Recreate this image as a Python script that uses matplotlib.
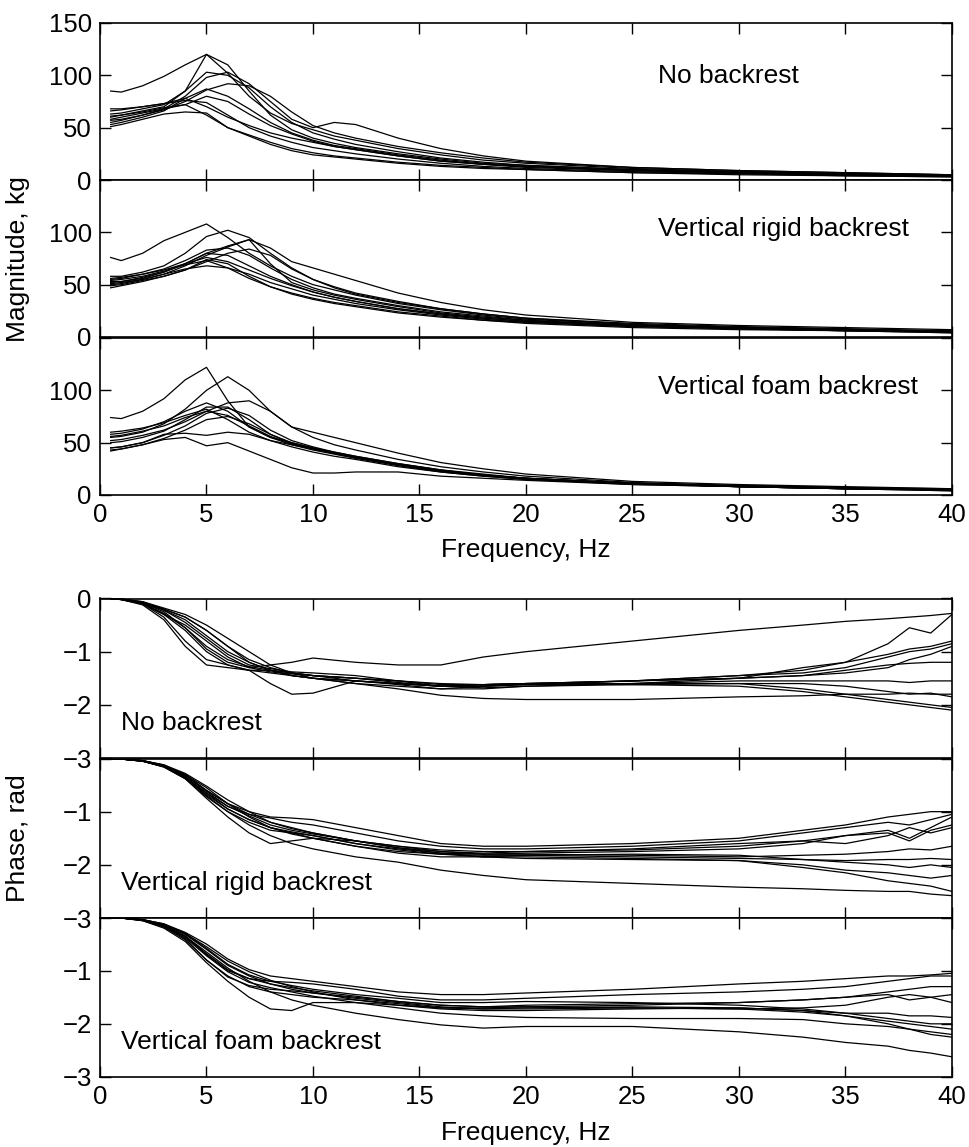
from pathlib import Path

import matplotlib

matplotlib.use("Agg")
import matplotlib.pyplot as plt


OUTPUT_PATH = Path("out.png")

plt.rcParams["font.family"] = ["Liberation Sans", "DejaVu Sans"]

# Frequency grids, Hz
MAG_FREQ = [0.5, 1, 2, 3, 4, 5, 6, 7, 8, 9, 10, 11, 12, 14, 16, 18, 20, 25, 30, 35, 40]
PHASE_FREQ = [0.5, 1, 2, 3, 4, 5, 6, 7, 8, 9, 10, 12, 14, 16, 18, 20, 25, 30, 33, 35, 37, 38, 39, 40]

CONDITIONS = ["No backrest", "Vertical rigid backrest", "Vertical foam backrest"]

# Apparent mass magnitude, kg (one row per subject)
MAG_NO_BACKREST = [
    [85, 84, 90, 99, 110, 120, 102, 80, 64, 54, 48, 42, 38, 30, 24, 19, 16, 11, 8, 6, 5],
    [60, 62, 66, 70, 85, 120, 110, 85, 62, 48, 40, 35, 31, 25, 20, 16, 14, 10, 7, 6, 4],
    [63, 64, 68, 72, 85, 103, 100, 88, 70, 55, 45, 39, 34, 27, 21, 17, 14, 10, 8, 6, 4],
    [55, 57, 62, 68, 80, 98, 103, 92, 75, 58, 50, 55, 53, 40, 30, 23, 18, 12, 9, 7, 5],
    [57, 58, 62, 67, 75, 86, 92, 90, 80, 65, 52, 45, 40, 32, 26, 21, 17, 12, 9, 7, 5],
    [53, 55, 60, 66, 78, 87, 80, 68, 55, 45, 38, 33, 30, 24, 19, 15, 13, 9, 7, 5, 4],
    [58, 60, 64, 68, 72, 80, 75, 63, 52, 44, 37, 32, 29, 23, 18, 15, 12, 9, 7, 5, 4],
    [66, 67, 70, 73, 78, 70, 60, 52, 45, 40, 36, 32, 29, 23, 18, 15, 13, 9, 7, 5, 4],
    [51, 53, 58, 63, 65, 64, 50, 42, 34, 28, 24, 22, 20, 16, 13, 11, 10, 7, 5, 4, 3],
    [61, 62, 65, 69, 72, 62, 50, 43, 36, 30, 26, 23, 21, 17, 14, 12, 10, 7, 6, 4, 3],
    [68, 68, 70, 73, 76, 74, 62, 50, 42, 36, 31, 28, 25, 20, 16, 13, 11, 8, 6, 5, 4],
]
MAG_RIGID = [
    [76, 73, 80, 92, 100, 108, 95, 80, 68, 58, 50, 45, 40, 32, 26, 21, 17, 12, 9, 7, 5],
    [58, 58, 62, 68, 80, 96, 102, 95, 80, 66, 55, 47, 41, 33, 27, 22, 18, 13, 10, 8, 6],
    [53, 53, 56, 62, 70, 80, 87, 93, 70, 52, 45, 40, 36, 29, 23, 19, 16, 11, 9, 7, 5],
    [51, 52, 55, 60, 68, 78, 86, 93, 85, 72, 66, 60, 54, 42, 33, 26, 21, 14, 11, 9, 7],
    [55, 56, 60, 65, 73, 83, 85, 78, 66, 55, 47, 41, 37, 30, 24, 20, 16, 11, 9, 7, 5],
    [52, 53, 57, 62, 70, 80, 78, 68, 58, 50, 43, 38, 34, 27, 22, 18, 15, 11, 8, 6, 5],
    [50, 51, 55, 60, 65, 68, 66, 60, 52, 46, 40, 36, 32, 26, 21, 17, 14, 10, 8, 6, 5],
    [54, 55, 58, 63, 69, 73, 66, 56, 48, 42, 37, 33, 30, 24, 20, 16, 14, 10, 8, 6, 4],
    [49, 50, 54, 58, 64, 72, 80, 84, 78, 65, 55, 48, 42, 34, 27, 22, 18, 12, 9, 7, 5],
    [47, 49, 53, 58, 64, 74, 70, 58, 48, 41, 36, 32, 29, 23, 19, 16, 13, 9, 7, 6, 4],
    [56, 57, 60, 64, 70, 76, 72, 64, 56, 49, 43, 38, 34, 27, 22, 18, 15, 11, 8, 7, 5],
]
MAG_FOAM = [
    [74, 73, 80, 92, 110, 122, 90, 65, 55, 50, 45, 40, 36, 29, 23, 19, 16, 11, 8, 6, 5],
    [55, 56, 60, 68, 82, 100, 113, 100, 80, 65, 60, 55, 50, 40, 31, 25, 20, 13, 10, 8, 6],
    [52, 53, 57, 62, 70, 80, 88, 90, 80, 65, 55, 48, 43, 34, 27, 22, 18, 12, 9, 7, 6],
    [45, 46, 50, 58, 59, 57, 60, 58, 52, 48, 44, 40, 36, 29, 23, 19, 16, 11, 8, 6, 5],
    [43, 44, 48, 53, 55, 47, 50, 42, 34, 26, 21, 21, 22, 22, 18, 16, 14, 10, 8, 6, 5],
    [58, 59, 63, 70, 80, 88, 80, 65, 55, 48, 43, 39, 35, 28, 22, 18, 15, 11, 8, 6, 5],
    [50, 51, 55, 61, 72, 84, 84, 72, 58, 49, 44, 40, 36, 29, 23, 19, 16, 11, 9, 7, 5],
    [45, 46, 50, 57, 66, 78, 83, 76, 62, 52, 46, 41, 37, 30, 24, 20, 16, 11, 9, 7, 5],
    [56, 57, 61, 66, 74, 80, 76, 66, 56, 49, 44, 40, 36, 29, 23, 19, 15, 11, 8, 6, 4],
    [42, 44, 48, 54, 62, 72, 75, 68, 58, 50, 45, 41, 37, 30, 24, 19, 16, 11, 8, 7, 5],
    [60, 61, 64, 69, 76, 82, 72, 60, 52, 46, 41, 37, 34, 27, 22, 18, 15, 10, 8, 6, 4],
]

# Apparent mass phase, rad
PHASE_NO_BACKREST = [
    [0, -0.01, -0.08, -0.25, -0.55, -0.95, -1.2, -1.3, -1.25, -1.2, -1.12, -1.2, -1.25, -1.25, -1.1, -1.0, -0.8, -0.6, -0.5, -0.43, -0.38, -0.35, -0.32, -0.28],
    [0, -0.02, -0.1, -0.3, -0.6, -1.0, -1.25, -1.35, -1.6, -1.8, -1.78, -1.55, -1.6, -1.65, -1.62, -1.6, -1.55, -1.5, -1.3, -1.2, -0.85, -0.55, -0.65, -0.3],
    [0, -0.02, -0.1, -0.35, -0.8, -1.15, -1.25, -1.35, -1.4, -1.45, -1.5, -1.55, -1.6, -1.65, -1.65, -1.62, -1.55, -1.45, -1.35, -1.2, -1.05, -0.95, -0.9, -0.8],
    [0, -0.02, -0.12, -0.4, -0.9, -1.25, -1.3, -1.35, -1.35, -1.4, -1.45, -1.5, -1.55, -1.6, -1.62, -1.6, -1.55, -1.45, -1.4, -1.3, -1.1, -1.0, -0.95, -0.85],
    [0, -0.01, -0.08, -0.2, -0.35, -0.6, -0.9, -1.15, -1.3, -1.4, -1.45, -1.5, -1.58, -1.65, -1.65, -1.6, -1.55, -1.5, -1.45, -1.35, -1.25, -1.22, -1.2, -1.2],
    [0, -0.01, -0.06, -0.18, -0.3, -0.5, -0.75, -1.0, -1.25, -1.4, -1.5, -1.6, -1.65, -1.7, -1.65, -1.62, -1.6, -1.55, -1.55, -1.55, -1.55, -1.58, -1.55, -1.55],
    [0, -0.01, -0.08, -0.22, -0.4, -0.7, -1.0, -1.2, -1.35, -1.45, -1.5, -1.55, -1.62, -1.7, -1.7, -1.65, -1.62, -1.6, -1.6, -1.65, -1.75, -1.8, -1.78, -1.85],
    [0, -0.01, -0.06, -0.2, -0.35, -0.6, -0.9, -1.2, -1.35, -1.45, -1.5, -1.6, -1.7, -1.82, -1.88, -1.9, -1.9, -1.85, -1.83, -1.8, -1.8, -1.78, -1.8, -1.8],
    [0, -0.02, -0.1, -0.3, -0.5, -0.8, -1.1, -1.3, -1.38, -1.42, -1.45, -1.55, -1.6, -1.65, -1.62, -1.6, -1.62, -1.65, -1.75, -1.85, -1.95, -2.0, -2.05, -2.1],
    [0, -0.02, -0.09, -0.28, -0.55, -0.9, -1.15, -1.28, -1.35, -1.4, -1.45, -1.5, -1.55, -1.62, -1.62, -1.6, -1.6, -1.6, -1.7, -1.8, -1.9, -1.95, -2.0, -2.05],
    [0, -0.01, -0.07, -0.22, -0.45, -0.75, -1.05, -1.25, -1.32, -1.38, -1.4, -1.45, -1.55, -1.65, -1.68, -1.65, -1.6, -1.5, -1.45, -1.4, -1.3, -1.15, -1.05, -0.9],
]
PHASE_RIGID = [
    [0, -0.01, -0.04, -0.12, -0.3, -0.6, -0.85, -1.0, -1.1, -1.12, -1.15, -1.3, -1.45, -1.6, -1.65, -1.65, -1.6, -1.5, -1.35, -1.25, -1.1, -1.05, -1.0, -1.0],
    [0, -0.01, -0.05, -0.15, -0.35, -0.65, -0.9, -1.05, -1.12, -1.2, -1.25, -1.4, -1.55, -1.65, -1.7, -1.7, -1.65, -1.55, -1.4, -1.3, -1.2, -1.25, -1.15, -1.05],
    [0, -0.01, -0.05, -0.15, -0.32, -0.6, -0.85, -1.05, -1.2, -1.3, -1.4, -1.55, -1.68, -1.75, -1.78, -1.75, -1.7, -1.6, -1.55, -1.45, -1.35, -1.5, -1.3, -1.1],
    [0, -0.01, -0.04, -0.14, -0.35, -0.7, -1.0, -1.2, -1.35, -1.4, -1.45, -1.6, -1.7, -1.78, -1.8, -1.78, -1.75, -1.7, -1.6, -1.45, -1.4, -1.55, -1.35, -1.25],
    [0, -0.01, -0.05, -0.16, -0.38, -0.75, -1.1, -1.4, -1.6, -1.55, -1.5, -1.55, -1.65, -1.75, -1.8, -1.8, -1.82, -1.85, -1.82, -1.8, -1.75, -1.7, -1.72, -1.65],
    [0, -0.01, -0.04, -0.13, -0.3, -0.55, -0.85, -1.1, -1.3, -1.42, -1.5, -1.65, -1.75, -1.8, -1.82, -1.82, -1.85, -1.88, -1.9, -1.92, -1.9, -1.9, -1.88, -1.9],
    [0, -0.01, -0.05, -0.15, -0.35, -0.68, -0.95, -1.15, -1.3, -1.4, -1.5, -1.65, -1.78, -1.85, -1.85, -1.82, -1.8, -1.82, -1.9, -1.95, -2.0, -2.05, -2.0, -2.05],
    [0, -0.01, -0.04, -0.12, -0.28, -0.52, -0.78, -1.0, -1.2, -1.32, -1.4, -1.55, -1.68, -1.78, -1.85, -1.88, -1.9, -1.92, -2.0, -2.1, -2.15, -2.2, -2.25, -2.2],
    [0, -0.01, -0.05, -0.16, -0.38, -0.72, -1.0, -1.25, -1.45, -1.6, -1.7, -1.85, -1.95, -2.1, -2.2, -2.28, -2.35, -2.42, -2.45, -2.48, -2.5, -2.5, -2.55, -2.58],
    [0, -0.01, -0.05, -0.15, -0.35, -0.65, -0.95, -1.15, -1.3, -1.38, -1.45, -1.6, -1.72, -1.8, -1.85, -1.85, -1.88, -1.92, -2.05, -2.15, -2.3, -2.35, -2.4, -2.5],
    [0, -0.01, -0.04, -0.14, -0.32, -0.62, -0.9, -1.08, -1.25, -1.35, -1.42, -1.55, -1.65, -1.72, -1.75, -1.75, -1.72, -1.65, -1.55, -1.6, -1.45, -1.3, -1.4, -1.3],
]
PHASE_FOAM = [
    [0, -0.01, -0.04, -0.12, -0.28, -0.5, -0.78, -0.98, -1.1, -1.15, -1.2, -1.3, -1.4, -1.45, -1.45, -1.42, -1.35, -1.25, -1.2, -1.15, -1.1, -1.1, -1.08, -1.05],
    [0, -0.01, -0.05, -0.15, -0.35, -0.7, -1.0, -1.15, -1.2, -1.22, -1.25, -1.35, -1.48, -1.55, -1.55, -1.52, -1.45, -1.4, -1.35, -1.3, -1.2, -1.15, -1.1, -1.1],
    [0, -0.01, -0.06, -0.2, -0.45, -0.85, -1.2, -1.5, -1.72, -1.75, -1.6, -1.6, -1.65, -1.7, -1.7, -1.68, -1.65, -1.6, -1.55, -1.5, -1.4, -1.35, -1.3, -1.3],
    [0, -0.01, -0.05, -0.17, -0.4, -0.8, -1.1, -1.3, -1.4, -1.45, -1.5, -1.55, -1.62, -1.7, -1.72, -1.7, -1.68, -1.7, -1.75, -1.8, -1.8, -1.85, -1.85, -1.88],
    [0, -0.01, -0.04, -0.14, -0.32, -0.6, -0.9, -1.1, -1.25, -1.35, -1.42, -1.52, -1.6, -1.68, -1.72, -1.72, -1.7, -1.72, -1.78, -1.85, -1.95, -2.0, -2.05, -2.1],
    [0, -0.01, -0.04, -0.12, -0.3, -0.55, -0.82, -1.02, -1.18, -1.3, -1.4, -1.55, -1.65, -1.72, -1.75, -1.75, -1.72, -1.7, -1.75, -1.85, -2.0, -2.1, -2.15, -2.2],
    [0, -0.01, -0.05, -0.15, -0.35, -0.65, -0.95, -1.2, -1.4, -1.55, -1.65, -1.8, -1.92, -2.02, -2.08, -2.05, -2.05, -2.15, -2.25, -2.35, -2.42, -2.5, -2.55, -2.62],
    [0, -0.01, -0.05, -0.16, -0.38, -0.72, -1.02, -1.22, -1.32, -1.4, -1.48, -1.6, -1.7, -1.8, -1.85, -1.88, -1.9, -1.9, -1.92, -2.0, -2.05, -2.1, -2.2, -2.25],
    [0, -0.01, -0.06, -0.18, -0.42, -0.8, -1.12, -1.28, -1.35, -1.38, -1.42, -1.5, -1.58, -1.65, -1.68, -1.68, -1.7, -1.72, -1.7, -1.65, -1.5, -1.45, -1.5, -1.45],
    [0, -0.01, -0.04, -0.13, -0.3, -0.58, -0.88, -1.08, -1.2, -1.28, -1.35, -1.45, -1.52, -1.6, -1.6, -1.58, -1.6, -1.65, -1.72, -1.8, -1.9, -1.95, -2.0, -2.0],
    [0, -0.01, -0.05, -0.16, -0.36, -0.68, -0.98, -1.15, -1.25, -1.32, -1.38, -1.48, -1.58, -1.65, -1.68, -1.65, -1.62, -1.6, -1.55, -1.5, -1.45, -1.55, -1.5, -1.6],
]

X_TICKS = [0, 5, 10, 15, 20, 25, 30, 35, 40]
MAG_TICKS = [0, 50, 100, 150]
PHASE_TICKS = [-3, -2, -1, 0]

FONT_SIZE = 19
TICK_SIZE = 18.5

LEFT = 100 / 970
WIDTH = 852 / 970
MAG_BOTTOMS = [1 - 180 / 1147, 1 - 337 / 1147, 1 - 495 / 1147]
MAG_HEIGHT = 157 / 1147
PHASE_BOTTOMS = [1 - 758 / 1147, 1 - 918 / 1147, 1 - 1077 / 1147]
PHASE_HEIGHT = 159.5 / 1147


def style_axis(ax, ylim, yticks, ytick_labels, show_xlabels):
    ax.set_xlim(0, 40)
    ax.set_ylim(*ylim)
    ax.set_xticks(X_TICKS)
    ax.set_yticks(yticks)
    ax.set_yticklabels(ytick_labels)
    if not show_xlabels:
        ax.set_xticklabels([])
    ax.tick_params(direction="in", length=8, width=1.0, top=True, right=True,
                   labelsize=TICK_SIZE, pad=6)
    for spine in ax.spines.values():
        spine.set_linewidth(1.2)


def draw_panel(ax, freq, curves):
    for curve in curves:
        ax.plot(freq, curve, color="black", linewidth=0.9)


def main() -> None:
    fig = plt.figure(figsize=(9.7, 11.47), dpi=100)

    mag_sets = [MAG_NO_BACKREST, MAG_RIGID, MAG_FOAM]
    label_y = [99, 103, 103]
    for i, (bottom, curves) in enumerate(zip(MAG_BOTTOMS, mag_sets)):
        ax = fig.add_axes([LEFT, bottom, WIDTH, MAG_HEIGHT])
        draw_panel(ax, MAG_FREQ, curves)
        labels = ["0", "50", "100", "150"] if i == 0 else ["0", "50", "100", ""]
        style_axis(ax, (0, 150), MAG_TICKS, labels, show_xlabels=(i == 2))
        ax.text(26.2, label_y[i], CONDITIONS[i], fontsize=FONT_SIZE, ha="left", va="center")

    phase_sets = [PHASE_NO_BACKREST, PHASE_RIGID, PHASE_FOAM]
    for i, (bottom, curves) in enumerate(zip(PHASE_BOTTOMS, phase_sets)):
        ax = fig.add_axes([LEFT, bottom, WIDTH, PHASE_HEIGHT])
        draw_panel(ax, PHASE_FREQ, curves)
        labels = ["\u22123", "\u22122", "\u22121", "0"] if i == 0 else ["\u22123", "\u22122", "\u22121", ""]
        style_axis(ax, (-3, 0), PHASE_TICKS, labels, show_xlabels=(i == 2))
        ax.text(1.0, -2.34, CONDITIONS[i], fontsize=FONT_SIZE, ha="left", va="center")

    fig.text(526 / 970, 1 - 550 / 1147, "Frequency, Hz", fontsize=FONT_SIZE, ha="center", va="center")
    fig.text(526 / 970, 1 - 1133 / 1147, "Frequency, Hz", fontsize=FONT_SIZE, ha="center", va="center")
    fig.text(18 / 970, 1 - 259 / 1147, "Magnitude, kg", fontsize=FONT_SIZE, rotation=90,
             ha="center", va="center")
    fig.text(18 / 970, 1 - 838 / 1147, "Phase, rad", fontsize=FONT_SIZE, rotation=90,
             ha="center", va="center")

    fig.savefig(OUTPUT_PATH, dpi=100, facecolor="white")
    plt.close(fig)


if __name__ == "__main__":
    main()
